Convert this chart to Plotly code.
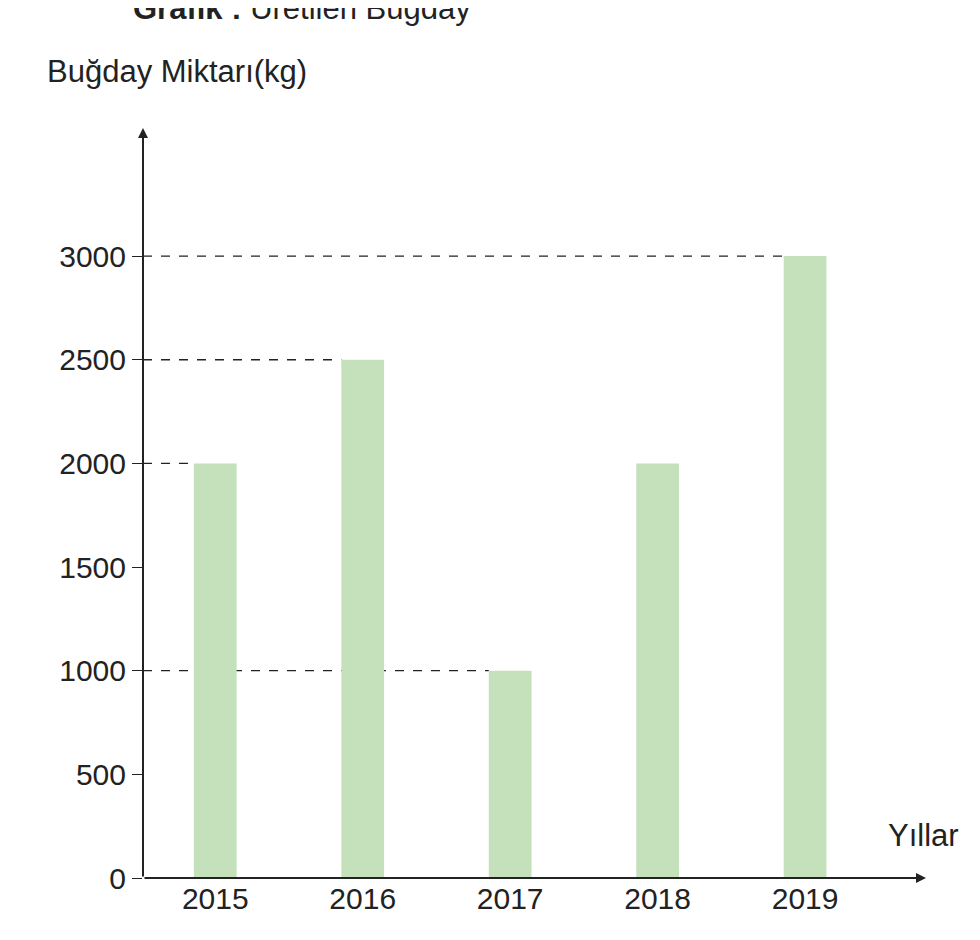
import plotly.graph_objects as go

years = ["2015", "2016", "2017", "2018", "2019"]
amounts = [2000, 2500, 1000, 2000, 3000]
yticks = [0, 500, 1000, 1500, 2000, 2500, 3000]

xpos = list(range(len(years)))
half = 0.145
FONT = "Liberation Sans, Arial, sans-serif"

fig = go.Figure(go.Bar(x=xpos, y=amounts, width=2 * half,
                       marker=dict(color="#c4e1bb", line=dict(width=0))))

# dashed guide lines from the axis to the left edge of the first bar reaching each level
shapes = []
seen = set()
for i, v in enumerate(amounts):
    if v in seen:
        continue
    seen.add(v)
    shapes.append(dict(type="line", xref="x", yref="y", x0=-0.49, x1=i - half, y0=v, y1=v,
                       line=dict(color="#222", width=1.3, dash="dash"), layer="below"))

fig.update_layout(
    width=980, height=940, plot_bgcolor="white", paper_bgcolor="white",
    margin=dict(l=135, r=62, t=120, b=70), showlegend=False, shapes=shapes,
    font=dict(family=FONT, size=30, color="#222"),
    xaxis=dict(range=[-0.49, 4.82], tickvals=xpos, ticktext=years, showgrid=False,
               zeroline=False, showline=False, ticks=""),
    yaxis=dict(range=[0, 3618], tickvals=yticks, showgrid=False, zeroline=False,
               showline=False, ticks="outside", ticklen=10, tickcolor="#222"),
    annotations=[
        # axes with arrows
        dict(xref="x domain", yref="y domain", x=0, y=1, ax=0, ay=0,
             axref="x domain", ayref="y domain",
             showarrow=True, arrowhead=2, arrowsize=1, arrowwidth=2, arrowcolor="#222", text=""),
        dict(xref="x domain", yref="y domain", x=1, y=0, ax=0, ay=0,
             axref="x domain", ayref="y domain",
             showarrow=True, arrowhead=2, arrowsize=1, arrowwidth=2, arrowcolor="#222", text=""),
        dict(xref="paper", yref="paper", x=-0.015, y=1.16, xanchor="left", yanchor="middle",
             showarrow=False, text="<b>Grafik :</b> Üretilen Buğday", font=dict(size=31)),
        dict(xref="paper", yref="paper", x=-0.125, y=1.075, xanchor="left", yanchor="middle",
             showarrow=False, text="Buğday Miktarı(kg)", font=dict(size=31)),
        dict(xref="paper", yref="paper", x=1.045, y=0.057, xanchor="right", yanchor="middle",
             showarrow=False, text="Yıllar", font=dict(size=31)),
    ],
)

fig.write_html("out.html")
